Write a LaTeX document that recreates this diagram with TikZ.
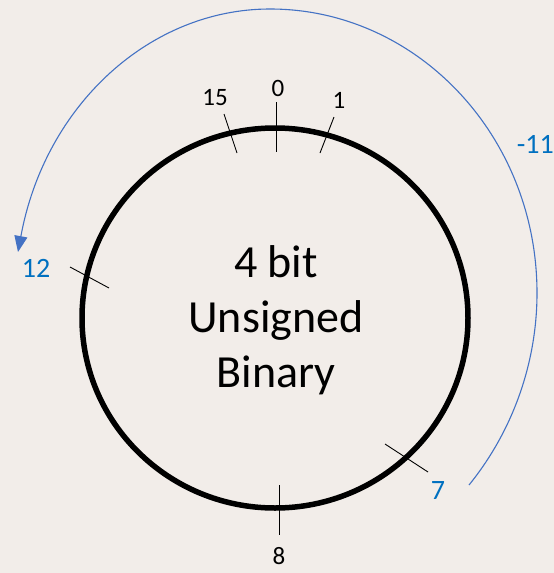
\documentclass[tikz,border=0pt]{standalone}
\usepackage{fontspec}
\setmainfont{Carlito}
\usepackage{tikz}
\usetikzlibrary{arrows.meta,positioning}

\definecolor{bgtint}{RGB}{242,237,233}
\definecolor{arcblue}{RGB}{68,114,196}
\definecolor{labelblue}{RGB}{0,112,192}

\begin{document}
\begin{tikzpicture}[
			x=1pt, y=-1pt,
			ring/.style={draw=black, line width=5.5pt},
			notch/.style={draw=black, line width=0.9pt},
			numlabel/.style={inner sep=0pt, font=\fontsize{25}{30}\selectfont},
			bluelabel/.style={inner sep=0pt, text=labelblue, font=\fontsize{28}{33}\selectfont},
			wrap/.style={draw=arcblue, line width=1.1pt, -{Triangle[length=16pt,width=13pt]}}
			]
			
			% Canvas
			\fill[bgtint] (0,0) rectangle (554,573);
			\useasboundingbox (0,0) rectangle (554,573);
			
			% Circle
			\draw[ring] (275,318) ellipse [x radius=193, y radius=190];
			\node[align=center, inner sep=0pt, font=\fontsize{46}{55}\selectfont] (title) at (276,320) {4 bit\\Unsigned\\Binary};
			
			% Notches
			\draw[notch] (276,102) -- (276,152);
			\draw[notch] (334,117) -- (320,153);
			\draw[notch] (224,114) -- (237,153);
			\draw[notch] (70,267) -- (109,288);
			\draw[notch] (385,444) -- (428,472);
			\draw[notch] (279,485) -- (279,535);
			
			% Labels
			\node[numlabel] (n0) at (278,88) {0};
			\node[numlabel] (n1) at (339,100) {1};
			\node[numlabel] (n15) at (215,98) {15};
			\node[numlabel] (n8) at (279,556) {8};
			\node[bluelabel] (n12) at (36,268) {12};
			\node[bluelabel] (n7) at (438,491) {7};
			\node[bluelabel, anchor=east] (shift) at (554,144) {-11};
			
			% Wrap-around arrow
			\coordinate (wrapStart) at (469,485);
			\coordinate (wrapTop) at (270,9);
			\coordinate (wrapEnd) at (18,252);
			\draw[wrap] (wrapStart) .. controls (512,432) and (537,364) .. (537,293)
				.. controls (537,136) and (417,9) .. (wrapTop)
				.. controls (150,9) and (45,105) .. (wrapEnd);
			
		\end{tikzpicture}
\end{document}
